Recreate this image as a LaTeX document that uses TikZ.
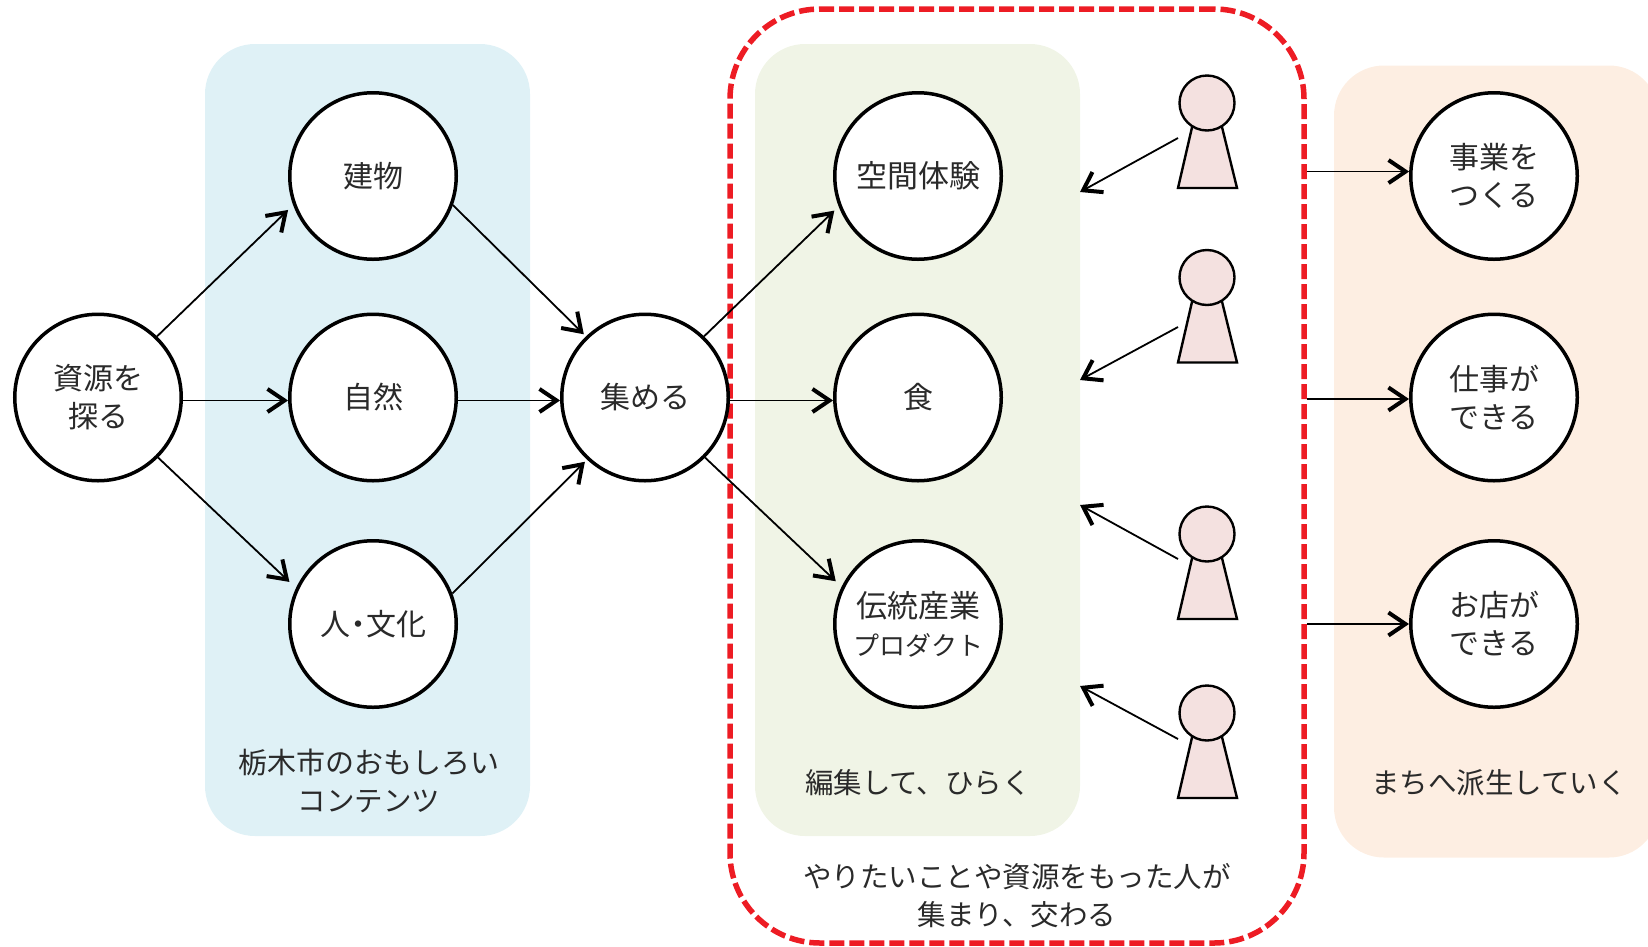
\documentclass[tikz,border=0pt]{standalone}
\usepackage{fontspec}
\setmainfont{Noto Sans CJK JP}
\usepackage{tikz}
\usetikzlibrary{arrows.meta}

\definecolor{panelblue}{HTML}{DFF1F6}
\definecolor{panelgreen}{HTML}{F0F4E6}
\definecolor{panelorange}{HTML}{FDEEE2}
\definecolor{redline}{HTML}{ED1C24}
\definecolor{personpink}{HTML}{F4E1E0}
\definecolor{textgrey}{HTML}{2A2A2A}

\tikzset{
    panel/.style={rectangle, rounded corners=50pt, minimum width=325pt, minimum height=792pt, inner sep=0pt},
    topic/.style={circle, draw=black, fill=white, line width=3.5pt, minimum size=166.5pt, inner sep=0pt, align=center,
        text=textgrey, font=\fontsize{30}{38}\selectfont},
    caption/.style={align=center, inner sep=0pt, text=textgrey, font=\fontsize{28.5}{38}\selectfont},
    head/.style={circle, draw=black, fill=personpink, line width=2.4pt, minimum size=55pt, inner sep=0pt},
    body/.style={draw=black, fill=personpink, line width=2.4pt, line join=miter},
    link/.style={draw=black, line width=1.8pt, -{Straight Barb[length=17pt,width=23pt,line width=4pt]}},
}

\begin{document}
\begin{tikzpicture}[x=1pt,y=-1pt]
        \useasboundingbox (0,0) rectangle (1648,946);

        %panels
        \node[panel, fill=panelblue] (contents) at (367.5,440) {};
        \node[panel, fill=panelgreen] (editing) at (917.5,440) {};
        \node[panel, fill=panelorange] (town) at (1496.5,461.5) {};
        \node[rectangle, draw=redline, line width=5.5pt, dash pattern=on 15pt off 5pt, rounded corners=90pt,
            minimum width=574pt, minimum height=934pt, inner sep=0pt] (gather) at (1017,476) {};

        %topics
        \node[topic] (explore) at (98,397.5) {資源を\\探る};
        \node[topic] (building) at (373,176) {建物};
        \node[topic] (nature) at (373,397.5) {自然};
        \node[topic] (culture) at (373,624) {人\hspace{-7pt}・\hspace{-7pt}文化};
        \node[topic] (collect) at (645,397.5) {集める};
        \node[topic] (space) at (918,176) {\fontsize{31}{38}\selectfont 空間体験};
        \node[topic] (food) at (918,397.5) {食};
        \node[topic] (craft) at (918,624) {\fontsize{31}{38}\selectfont 伝統産業\\\fontsize{26}{38}\selectfont プロダクト};
        \node[topic] (business) at (1494,176) {事業を\\つくる};
        \node[topic] (work) at (1494,397.5) {仕事が\\できる};
        \node[topic] (shop) at (1494,624) {お店が\\できる};

        %captions
        \node[caption] (contentscap) at (369,781) {\fontsize{29}{36}\selectfont 栃木市のおもしろい\\コンテンツ};
        \node[caption] (editingcap) at (918,783) {編集して、ひらく};
        \node[caption] (towncap) at (1499,783) {まちへ派生していく};
        \node[caption] (gathercap) at (1017,896) {やりたいことや資源をもった人が\\集まり、交わる};

        %persons
        \foreach \i/\y/\ys/\ye in {1/103/138/192, 2/277.5/327/380, 3/534/559/505, 4/713/739/686}{
            \draw[body] (1193,{\y+20}) -- (1178,{\y+85}) -- (1237,{\y+85}) -- (1221,{\y+20}) -- cycle;
            \node[head] (head\i) at (1207,\y) {};
            \coordinate (from\i) at (1178,\ys);
            \coordinate (to\i) at (1080,\ye);
            \draw[link] (from\i) -- (to\i);
        }

        %links
        \draw[link, shorten >=7pt] (explore.46) -- (building.200);
        \draw[link] (explore.-2) -- (nature.182);
        \draw[link, shorten >=9pt] (explore.-45) -- (culture.155);
        \draw[link, shorten >=3pt] (building.-20) -- (collect.134);
        \draw[link] (nature.-2) -- (collect.182);
        \draw[link, shorten >=3pt] (culture.21) -- (collect.227);
        \draw[link, shorten >=6pt] (collect.46) -- (space.201);
        \draw[link] (collect.-2) -- (food.182);
        \draw[link, shorten >=8pt] (collect.-45) -- (craft.154);
        \foreach \t/\a in {business/177, work/181, shop/180}{
            \draw[link] (gather.east |- \t.\a) -- (\t.\a);
        }

\end{tikzpicture}
\end{document}
